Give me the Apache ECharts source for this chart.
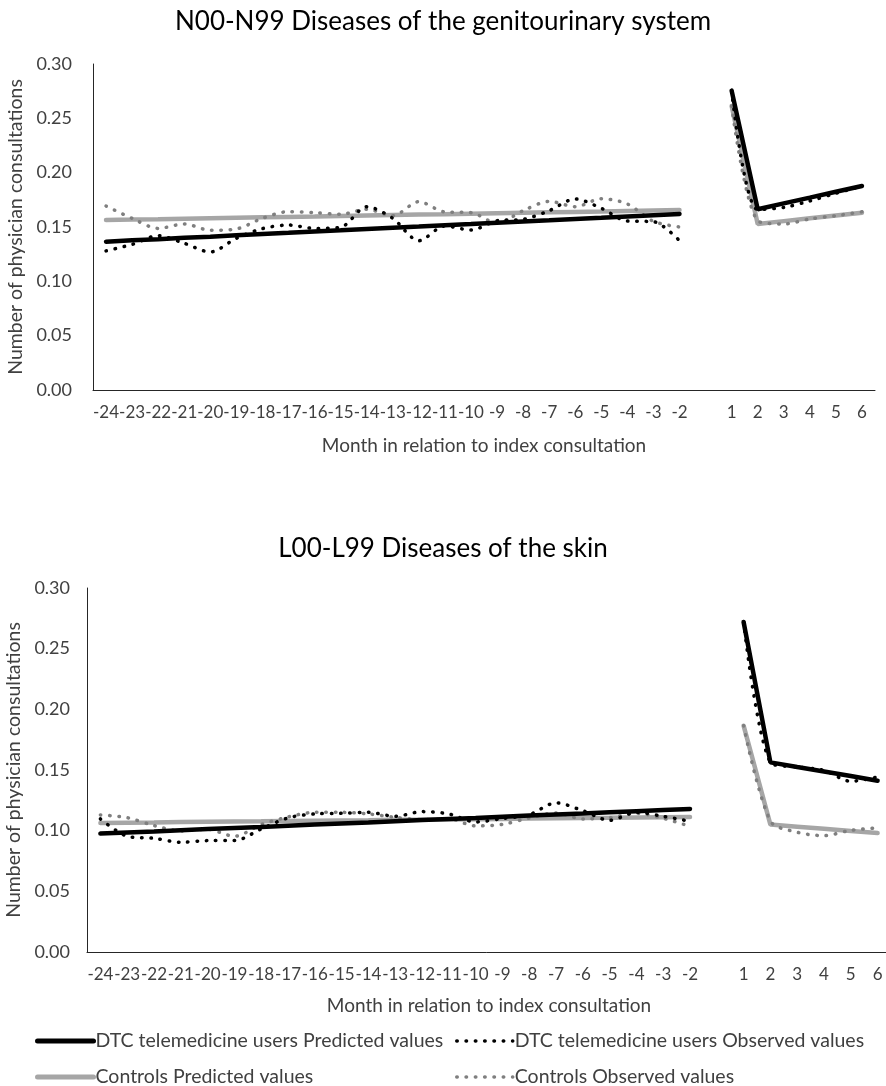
<!DOCTYPE html>
<html>
<head>
<meta charset="utf-8">
<script src="https://cdn.jsdelivr.net/npm/echarts@6/dist/echarts.min.js"></script>
<style>
html,body{margin:0;padding:0;background:#fff;}
#chart{width:886px;height:1086px;}
</style>
</head>
<body>
<div id="chart"></div>
<script>
// ---- Data ----
const months = ['-24','-23','-22','-21','-20','-19','-18','-17','-16','-15','-14','-13','-12','-11','-10','-9','-8','-7','-6','-5','-4','-3','-2','','1','2','3','4','5','6'];
const yTicks = [0, 0.05, 0.10, 0.15, 0.20, 0.25, 0.30];

const titleN = 'N00-N99 Diseases of the genitourinary system';
const titleL = 'L00-L99 Diseases of the skin';

// N00-N99 panel
const nDtcPred = [0.1365,0.1377,0.1388,0.1400,0.1411,0.1423,0.1435,0.1446,0.1458,0.1469,0.1481,0.1493,0.1504,0.1516,0.1527,0.1539,0.1551,0.1562,0.1574,0.1585,0.1597,0.1609,0.1620, null, 0.2755,0.1663,0.1717,0.1770,0.1824,0.1877];
const nDtcObs  = [0.128,0.134,0.142,0.135,0.127,0.1396,0.1485,0.1518,0.1487,0.1497,0.1687,0.1580,0.1374,0.1509,0.1472,0.1558,0.157,0.165,0.1758,0.1672,0.1555,0.1549,0.1374, null, 0.2755,0.166,0.168,0.174,0.181,0.1877];
const nCtrlPred = [0.1564,0.1568,0.1572,0.1577,0.1581,0.1585,0.1589,0.1593,0.1597,0.1602,0.1606,0.1610,0.1614,0.1618,0.1623,0.1627,0.1631,0.1635,0.1639,0.1643,0.1648,0.1652,0.1656, null, 0.2613,0.1528,0.1554,0.1580,0.1606,0.1632];
const nCtrlObs  = [0.1693,0.158,0.1487,0.1528,0.147,0.1482,0.158,0.1641,0.1632,0.1617,0.1663,0.1604,0.1733,0.1638,0.1632,0.1534,0.165,0.1736,0.1687,0.176,0.1712,0.1552,0.150, null, 0.2613,0.1558,0.1528,0.1574,0.1604,0.164];

// L00-L99 panel
const lDtcPred = [0.0976,0.0985,0.0994,0.1004,0.1013,0.1022,0.1031,0.1041,0.1050,0.1059,0.1068,0.1078,0.1087,0.1096,0.1105,0.1115,0.1124,0.1133,0.1142,0.1152,0.1161,0.1170,0.1179, null, 0.272,0.1563,0.1525,0.1488,0.1450,0.1412];
const lDtcObs  = [0.1097,0.0954,0.0937,0.0904,0.0918,0.0918,0.1014,0.1105,0.1138,0.1143,0.1151,0.1118,0.1157,0.1138,0.1072,0.110,0.1132,0.1229,0.1165,0.1085,0.1151,0.1118,0.1077, null, 0.272,0.1563,0.1525,0.1497,0.1407,0.1443];
const lCtrlPred = [0.1064,0.1066,0.1068,0.1071,0.1073,0.1075,0.1077,0.1080,0.1082,0.1084,0.1086,0.1089,0.1091,0.1093,0.1095,0.1097,0.1100,0.1102,0.1104,0.1106,0.1109,0.1111,0.1113, null, 0.1865,0.105,0.1033,0.1016,0.0998,0.0981];
const lCtrlObs  = [0.113,0.1107,0.1042,0.0998,0.1011,0.0954,0.105,0.1113,0.1151,0.1151,0.1138,0.111,0.1091,0.1096,0.1039,0.1052,0.1105,0.1146,0.1097,0.1105,0.1143,0.1102,0.1036, null, 0.1865,0.108,0.0987,0.0959,0.1003,0.1022];

const names = ['DTC telemedicine users Predicted values','DTC telemedicine users Observed values','Controls Predicted values','Controls Observed values'];

// ---- Styles ----
const FONT = 'Lato';
const TXT = '#404040';
const colors = ['#000000','#000000','#A6A6A6','#7F7F7F'];
const predBlack = {color:'#000000', width:4.5, type:'solid', cap:'round'};
const predGray  = {color:'#A6A6A6', width:4.5, type:'solid', cap:'round'};
const obsBlack  = {color:'#000000', width:3.5, type:[0.5, 8.8], cap:'round'};
const obsGray   = {color:'#7F7F7F', width:3.5, type:[0.5, 8.8], cap:'round'};

function xAxisFor(i, gap){
  return {
    type:'category', gridIndex:i, data:months, boundaryGap:true,
    axisLine:{show:true, lineStyle:{color:'#262626', width:1}},
    axisTick:{show:false},
    axisLabel:{interval:0, color:TXT, fontFamily:FONT, fontSize:17, margin:14},
    name:'Month in relation to index consultation', nameLocation:'middle', nameGap:gap,
    nameTextStyle:{color:TXT, fontFamily:FONT, fontSize:19}
  };
}
function yAxisFor(i, margin, gap){
  return {
    type:'value', gridIndex:i, min:yTicks[0], max:yTicks[yTicks.length-1], interval:0.05,
    axisLine:{show:true, lineStyle:{color:'#262626', width:1}},
    axisTick:{show:false}, splitLine:{show:false},
    axisLabel:{color:TXT, fontFamily:FONT, fontSize:18, margin:margin, formatter:v=>v.toFixed(2)},
    name:'Number of physician consultations', nameLocation:'middle', nameGap:gap,
    nameTextStyle:{color:TXT, fontFamily:FONT, fontSize:19.5}
  };
}
function seriesFor(i, arrs){
  const styles = [predBlack, obsBlack, predGray, obsGray];
  const order = [2,3,0,1]; // draw controls first, DTC on top
  return order.map(k => ({
    name:names[k], type:'line', xAxisIndex:i, yAxisIndex:i, data:arrs[k],
    showSymbol:false, symbol:'none', connectNulls:false, smooth: (k===1||k===3)?0.3:false,
    itemStyle:{color:colors[k]},
    lineStyle:styles[k], z: k<2?3:2, animation:false
  }));
}

const chart = echarts.init(document.getElementById('chart'), null, {renderer:'canvas'});
const legendBase = {itemWidth:56, itemHeight:14, itemGap:0, itemStyle:{opacity:0},
  textStyle:{color:TXT, fontFamily:FONT, fontSize:19.5, padding:[0,0,0,-3]}, selectedMode:false};
chart.setOption({
  backgroundColor:'#ffffff',
  animation:false,
  title:[
    {text:titleN, left:'center', top:4, textStyle:{color:'#000', fontFamily:FONT, fontSize:26, fontWeight:'normal'}},
    {text:titleL, left:'center', top:531, textStyle:{color:'#000', fontFamily:FONT, fontSize:26, fontWeight:'normal'}}
  ],
  grid:[
    {left:93, top:64, width:782, height:326, outerBoundsMode:'none', containLabel:false},
    {left:87, top:588, width:804, height:364, outerBoundsMode:'none', containLabel:false}
  ],
  xAxis:[xAxisFor(0, 46), xAxisFor(1, 44)],
  yAxis:[yAxisFor(0, 21, 65), yAxisFor(1, 17, 59)],
  legend:[
    Object.assign({}, legendBase, {data:[names[0]], left:30, top:1026, lineStyle:{width:5}}),
    Object.assign({}, legendBase, {data:[names[1]], left:450, top:1026, lineStyle:{width:3.5}}),
    Object.assign({}, legendBase, {data:[names[2]], left:30, top:1062, lineStyle:{width:5}}),
    Object.assign({}, legendBase, {data:[names[3]], left:450, top:1062, lineStyle:{width:3.5}})
  ],
  series:[].concat(
    seriesFor(0,[nDtcPred,nDtcObs,nCtrlPred,nCtrlObs]),
    seriesFor(1,[lDtcPred,lDtcObs,lCtrlPred,lCtrlObs])
  )
});
</script>
</body>
</html>
